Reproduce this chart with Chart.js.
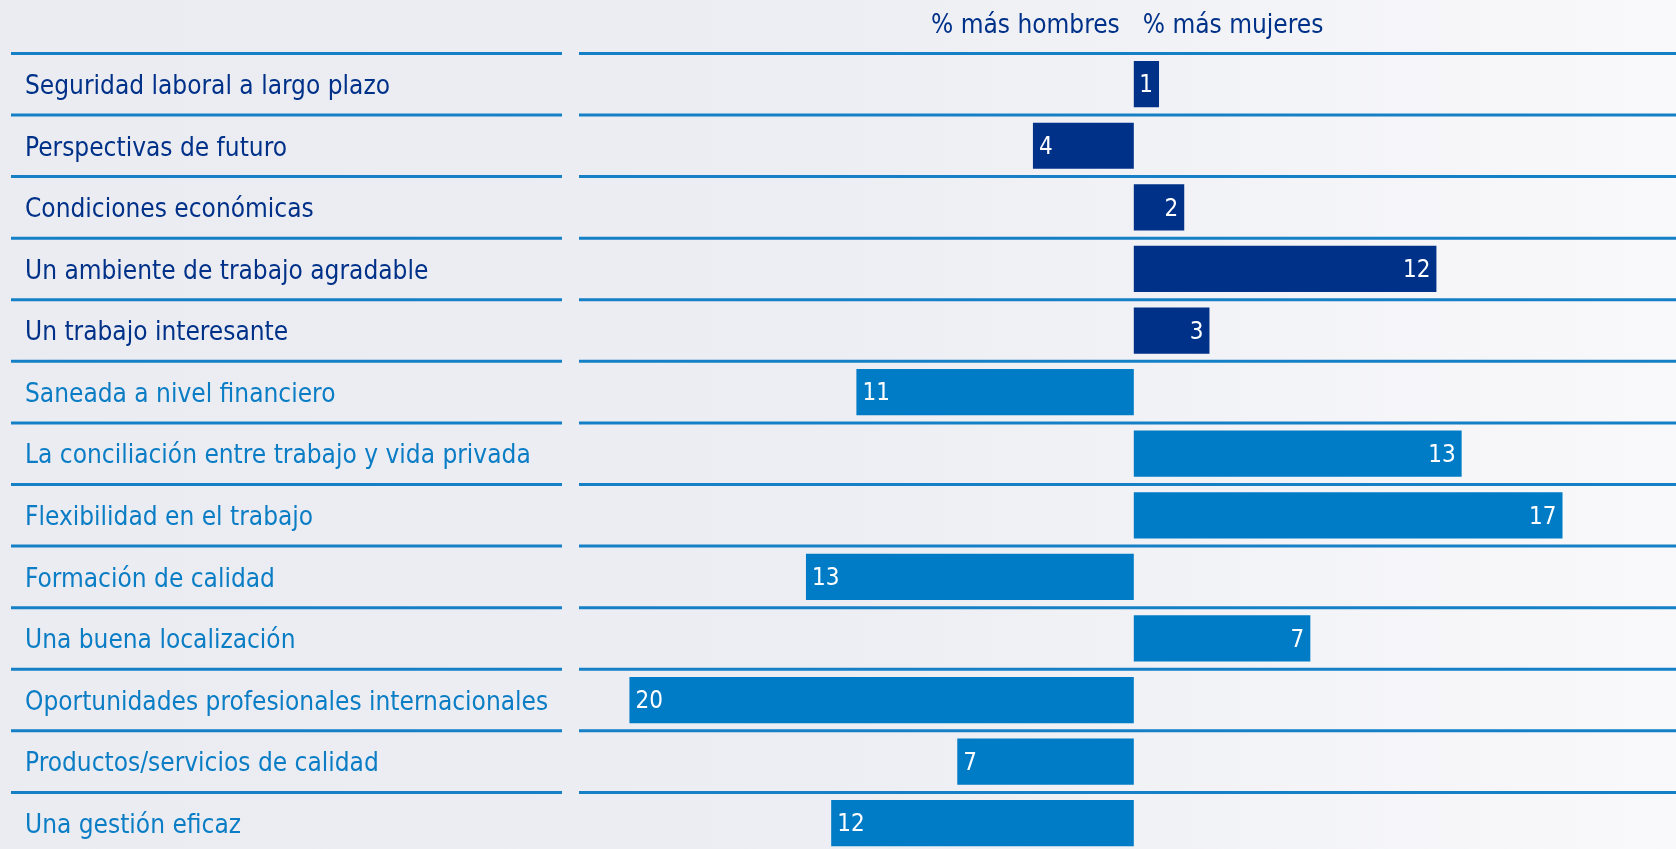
<!DOCTYPE html>
<html><head><meta charset="utf-8">
<script src="https://cdn.jsdelivr.net/npm/chart.js@4"></script>
<style>
html,body{margin:0;padding:0;overflow:hidden;background:#ECEDF3}
#c{display:block}
</style>
</head><body><canvas id="c" width="1676" height="856"></canvas>
<script>
const categories = [
  'Seguridad laboral a largo plazo',
  'Perspectivas de futuro',
  'Condiciones económicas',
  'Un ambiente de trabajo agradable',
  'Un trabajo interesante',
  'Saneada a nivel financiero',
  'La conciliación entre trabajo y vida privada',
  'Flexibilidad en el trabajo',
  'Formación de calidad',
  'Una buena localización',
  'Oportunidades profesionales internacionales',
  'Productos/servicios de calidad',
  'Una gestión eficaz'
];
// positive = % más mujeres, negative = % más hombres
const values = [1, -4, 2, 12, 3, -11, 13, 17, -13, 7, -20, -7, -12];
const groupOf = [0, 0, 0, 0, 0, 1, 1, 1, 1, 1, 1, 1, 1];
const headerLabels = ['% más hombres', '% más mujeres'];
const xMin = -22, xMax = 21.5;

const DARK = '#003189';
const LIGHT = '#007BC6';
const TXT_LIGHT = '#0A7DC5';
const LINE = '#1580C6';
const FONT = '"DejaVu Sans Condensed", "DejaVu Sans", sans-serif';

const bgPlugin = {
  id: 'bg',
  beforeDraw(chart) {
    const {ctx, width, height} = chart;
    const g = ctx.createLinearGradient(0, 0, width, 0);
    g.addColorStop(0, '#EBECF2');
    g.addColorStop(0.5, '#EDEEF3');
    g.addColorStop(1, '#F9F9FB');
    ctx.save();
    ctx.fillStyle = g;
    ctx.fillRect(0, 0, width, height);
    ctx.restore();
  }
};

const linesPlugin = {
  id: 'rowLines',
  beforeDatasetsDraw(chart) {
    const {ctx, chartArea: ca} = chart;
    const y = chart.scales.y;
    const half = (y.getPixelForValue(1) - y.getPixelForValue(0)) / 2;
    ctx.save();
    ctx.strokeStyle = LINE;
    ctx.lineWidth = 3;
    for (let i = 0; i <= categories.length; i++) {
      const py = (i < categories.length ? y.getPixelForValue(i) - half : y.getPixelForValue(i - 1) + half);
      ctx.beginPath();
      ctx.moveTo(11, py); ctx.lineTo(ca.left - 17, py);
      ctx.moveTo(ca.left, py); ctx.lineTo(ca.right, py);
      ctx.stroke();
    }
    ctx.restore();
  }
};

const labelsPlugin = {
  id: 'valueLabels',
  afterDatasetsDraw(chart) {
    const {ctx} = chart;
    const meta = chart.getDatasetMeta(0);
    ctx.save();
    ctx.font = '24px ' + FONT;
    ctx.fillStyle = '#FFFFFF';
    ctx.textBaseline = 'middle';
    meta.data.forEach((el, i) => {
      const v = values[i];
      if (v >= 0) { ctx.textAlign = 'right'; ctx.fillText(String(Math.abs(v)), el.x - 6, el.y + 2); }
      else { ctx.textAlign = 'left'; ctx.fillText(String(Math.abs(v)), el.x + 6, el.y + 2); }
    });
    const x0 = chart.scales.x.getPixelForValue(0);
    ctx.font = '26px ' + FONT;
    ctx.fillStyle = DARK;
    ctx.textAlign = 'right';
    ctx.fillText(headerLabels[0], x0 - 14, 26);
    ctx.textAlign = 'left';
    ctx.fillText(headerLabels[1], x0 + 9, 26);
    ctx.restore();
  }
};

new Chart(document.getElementById('c'), {
  type: 'bar',
  data: {
    labels: categories,
    datasets: [{
      data: values,
      backgroundColor: c => groupOf[c.dataIndex] === 0 ? DARK : LIGHT,
      borderWidth: 0,
      barPercentage: 1,
      categoryPercentage: 0.75
    }]
  },
  options: {
    indexAxis: 'y',
    responsive: false,
    maintainAspectRatio: false,
    animation: false,
    devicePixelRatio: 1,
    layout: {padding: {left: 25, top: 53.4, right: 0, bottom: 2}},
    plugins: {legend: {display: false}, tooltip: {enabled: false}},
    scales: {
      x: {display: false, min: xMin, max: xMax},
      y: {
        grid: {display: false, drawTicks: false},
        border: {display: false},
        ticks: {
          crossAlign: 'far',
          padding: 0,
          labelOffset: 3,
          autoSkip: false,
          color: c => groupOf[c.index] === 0 ? DARK : TXT_LIGHT,
          font: {family: FONT, size: 26}
        },
        afterFit(s) { s.width = 554; s.paddingTop = 0; s.paddingBottom = 0; }
      }
    }
  },
  plugins: [bgPlugin, linesPlugin, labelsPlugin]
});
</script>
</body></html>
